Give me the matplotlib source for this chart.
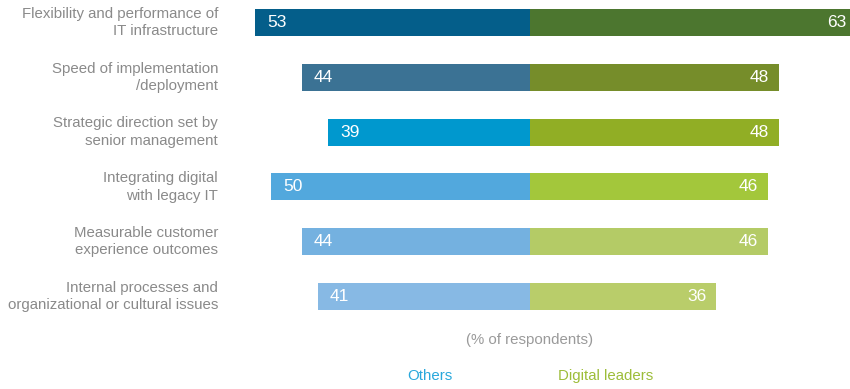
import matplotlib.pyplot as plt

categories = [
    "Flexibility and performance of\nIT infrastructure",
    "Speed of implementation\n/deployment",
    "Strategic direction set by\nsenior management",
    "Integrating digital\nwith legacy IT",
    "Measurable customer\nexperience outcomes",
    "Internal processes and\norganizational or cultural issues",
]
others = [53, 44, 39, 50, 44, 41]
leaders = [63, 48, 48, 46, 46, 36]

others_colors = ["#045e8a", "#3b7294", "#0098ce", "#52a8dd", "#74b1e0", "#87b9e4"]
leaders_colors = ["#4c762f", "#768d2a", "#91ae25", "#a3c73b", "#b4cb66", "#b9cd6a"]

plt.rcParams['font.family'] = ['Liberation Sans', 'DejaVu Sans']

W, H = 850, 389
fig = plt.figure(figsize=(W / 100, H / 100), dpi=100)
ax = fig.add_axes([0, 0, 1, 1])
ax.axis('off')

scale = 5.18   # px per percentage point
cx = 530       # center line in px
xmax = (W - cx) / scale
ax.set_xlim(-cx / scale, xmax)
ax.set_ylim(H, 0)

label_x = (218 - cx) / scale

for i, cat in enumerate(categories):
    y = 22.5 + 54.8 * i
    ax.barh(y, -others[i], height=27, left=0, color=others_colors[i])
    ax.barh(y, leaders[i], height=27, left=0, color=leaders_colors[i])
    ax.text(-others[i] + 12 / scale, y, str(others[i]), color='white',
            fontsize=12.5, va='center', ha='left')
    if leaders[i] > xmax:
        rx = xmax - 4 / scale
    else:
        rx = leaders[i] - 10 / scale
    ax.text(rx, y, str(leaders[i]), color='white', fontsize=12.5,
            va='center', ha='right')
    ax.text(label_x, y, cat, color='#8a8a8a', fontsize=10.8, va='center',
            ha='right', linespacing=1.3)

ax.text(0, 340, "(% of respondents)", color='#9a9a9a', fontsize=10.8,
        ha='center', va='center')
ax.text((430 - cx) / scale, 376, "Others", color='#29a8dc', fontsize=10.8,
        ha='center', va='center')
ax.text((606 - cx) / scale, 376, "Digital leaders", color='#9dbd3a', fontsize=10.8,
        ha='center', va='center')

fig.savefig('out.png', dpi=100)
